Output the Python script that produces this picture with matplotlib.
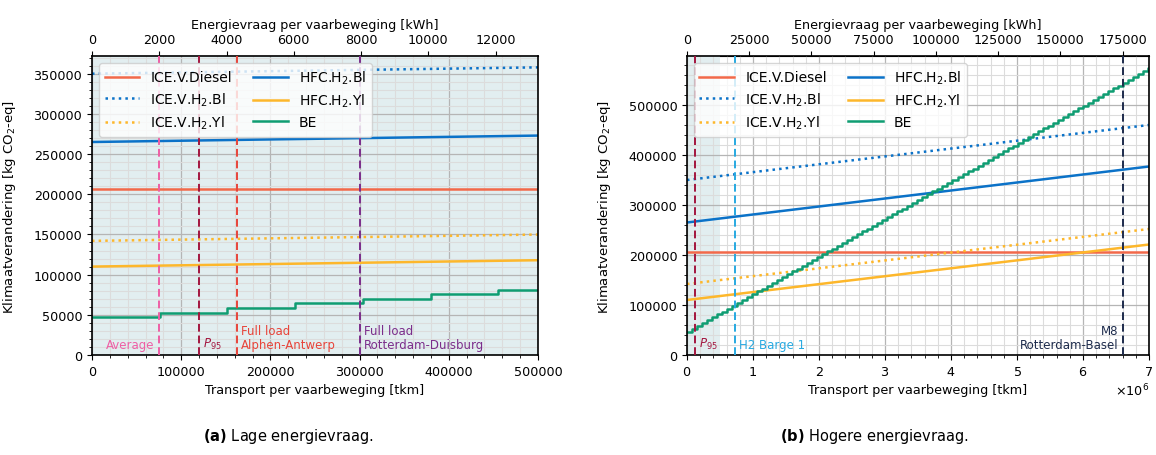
import numpy as np
import matplotlib
matplotlib.use('Agg')
import matplotlib.pyplot as plt
from matplotlib.ticker import MultipleLocator, ScalarFormatter, FixedLocator

plt.rcParams['font.family'] = ['DejaVu Sans']
plt.rcParams['font.size'] = 9.2
plt.rcParams['mathtext.fontset'] = 'dejavusans'

# line end points at 0 and 7e6 tkm
line_x = [0, 7e6]
diesel = [207000, 207000]
ice_h2_bl = [350000, 460000]
ice_h2_yl = [142000, 252000]
hfc_h2_bl = [265000, 377000]
hfc_h2_yl = [110000, 221000]

# BE staircase, one level per battery block (~75900 tkm wide)
be_step_tkm = 75900
be_levels = [47000, 52700, 58400, 64200, 69900, 75600, 81300, 87000, 92800, 98500,
             104200, 109900, 115600, 121400, 127100, 132800, 138500, 144200, 150000, 155700,
             161400, 167100, 172800, 178600, 184300, 190000, 195700, 201400, 207200, 212900,
             218600, 224300, 230000, 235800, 241500, 247200, 252900, 258600, 264400, 270100,
             275800, 281500, 287200, 293000, 298700, 304400, 310100, 315800, 321600, 327300,
             333000, 338700, 344400, 350200, 355900, 361600, 367300, 373000, 378800, 384500,
             390200, 395900, 401600, 407400, 413100, 418800, 424500, 430200, 436000, 441700,
             447400, 453100, 458800, 464600, 470300, 476000, 481700, 487400, 493200, 498900,
             504600, 510300, 516000, 521800, 527500, 533200, 538900, 544600, 550400, 556100,
             561800, 567500, 573200]

kwh_per_tkm = 0.02652
top_ticks_a = [0, 2000, 4000, 6000, 8000, 10000, 12000]
top_ticks_b = [0, 25000, 50000, 75000, 100000, 125000, 150000, 175000]

# vertical markers: (x in tkm, label, colour, side)
marks_a = [(75000, 'Average', '#ee5fa5', 'left'),
           (120000, '$P_{95}$', '#a3163f', 'right'),
           (162000, 'Full load\nAlphen-Antwerp', '#e8443a', 'right'),
           (300000, 'Full load\nRotterdam-Duisburg', '#7b2d8b', 'right')]
marks_b = [(120000, '$P_{95}$', '#a3163f', 'right'),
           (720000, 'H2 Barge 1', '#27a9e1', 'right'),
           (6600000, 'M8\nRotterdam-Basel', '#1d2b4c', 'left')]

c_diesel = '#f2694a'
c_blue = '#0b72c8'
c_yellow = '#fdb72b'
c_green = '#0f9d72'
shade = '#e2eef0'


def draw(ax, xmax, ymax, marks, ymaj, ymin, xmaj, xmin, top_ticks):
    ax.axvspan(0, 500000, color=shade, zorder=0.1, lw=0)
    ax.plot(line_x, diesel, color=c_diesel, lw=1.8, label='ICE.V.Diesel')
    ax.plot(line_x, ice_h2_bl, color=c_blue, lw=1.8, ls=':', label='ICE.V.H$_2$.Bl')
    ax.plot(line_x, ice_h2_yl, color=c_yellow, lw=1.8, ls=':', label='ICE.V.H$_2$.Yl')
    ax.plot(line_x, hfc_h2_bl, color=c_blue, lw=1.8, label='HFC.H$_2$.Bl')
    ax.plot(line_x, hfc_h2_yl, color=c_yellow, lw=1.8, label='HFC.H$_2$.Yl')
    be_x = np.arange(len(be_levels)) * be_step_tkm
    ax.step(np.append(be_x, 7.2e6), np.append(be_levels, be_levels[-1]),
            where='post', color=c_green, lw=1.8, label='BE')
    for x, txt, col, side in marks:
        ax.axvline(x, color=col, ls=(0, (4, 2)), lw=1.4, zorder=3)
        off = 3 if side == 'right' else -3
        ax.annotate(txt, (x, 0.012), xycoords=('data', 'axes fraction'),
                    xytext=(off, 0), textcoords='offset points',
                    ha='left' if side == 'right' else 'right', va='bottom',
                    color=col, fontsize=8.5, linespacing=1.15)
    ax.set_xlim(0, xmax)
    ax.set_ylim(0, ymax)
    ax.yaxis.set_major_locator(MultipleLocator(ymaj))
    ax.yaxis.set_minor_locator(MultipleLocator(ymin))
    ax.xaxis.set_major_locator(MultipleLocator(xmaj))
    ax.xaxis.set_minor_locator(MultipleLocator(xmin))
    ax.set_axisbelow(True)
    ax.grid(which='major', color='#b5b5b5', lw=0.9)
    ax.grid(which='minor', color='#dcdcdc', lw=0.8)
    ax.set_xlabel('Transport per vaarbeweging [tkm]')
    ax.set_ylabel('Klimaatverandering [kg CO$_2$-eq]', fontsize=9.5)
    for s in ax.spines.values():
        s.set_linewidth(1.2)
    top = ax.secondary_xaxis('top', functions=(lambda v: v * kwh_per_tkm,
                                               lambda v: v / kwh_per_tkm))
    top.xaxis.set_major_locator(FixedLocator(top_ticks))
    top.set_xlabel('Energievraag per vaarbeweging [kWh]')
    ax.legend(loc='upper left', ncol=2, fontsize=10, handlelength=2.5,
              columnspacing=1.5, labelspacing=0.42, framealpha=0.8,
              edgecolor='#cccccc')
    return top


fig = plt.figure(figsize=(11.56, 4.56), dpi=100)
ax1 = fig.add_axes([92 / 1156, 1 - 356 / 456, 446 / 1156, 299 / 456])
ax2 = fig.add_axes([687 / 1156, 1 - 356 / 456, 462 / 1156, 299 / 456])

draw(ax1, 500000, 372000, marks_a, 50000, 10000, 100000, 20000, top_ticks_a)
ax1.ticklabel_format(axis='x', style='plain')
ax1.yaxis.set_label_coords(-0.166, 0.5)

draw(ax2, 7e6, 598000, marks_b, 100000, 20000, 1e6, 2e5, top_ticks_b)
fmt = ScalarFormatter(useMathText=True)
fmt.set_powerlimits((0, 0))
ax2.xaxis.set_major_formatter(fmt)
ax2.yaxis.set_label_coords(-0.160, 0.5)

fig.text(288 / 1156, 1 - 437 / 456, r'$\bf{(a)}$ Lage energievraag.', ha='center',
         va='center', fontsize=10.5)
fig.text(874 / 1156, 1 - 437 / 456, r'$\bf{(b)}$ Hogere energievraag.', ha='center',
         va='center', fontsize=10.5)

fig.savefig('out.png', dpi=100)
